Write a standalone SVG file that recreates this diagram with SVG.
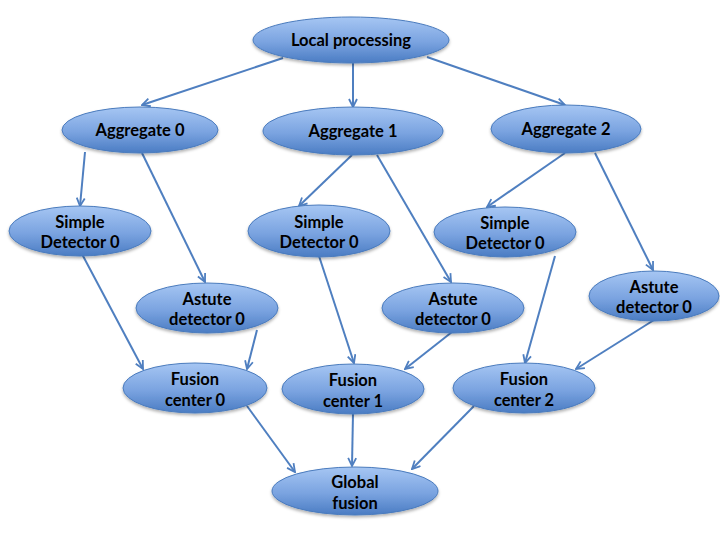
<svg xmlns="http://www.w3.org/2000/svg" width="720" height="540" viewBox="0 0 720 540">
<defs>
<linearGradient id="g" x1="0" y1="0" x2="0" y2="1">
<stop offset="0" stop-color="#a6c6f3"/>
<stop offset="0.55" stop-color="#7aa3e0"/>
<stop offset="1" stop-color="#4a7cc3"/>
</linearGradient>
<filter id="sh" x="-10%" y="-10%" width="120%" height="140%">
<feDropShadow dx="0" dy="2" stdDeviation="1.5" flood-color="#000" flood-opacity="0.3"/>
</filter>
<marker id="ah" viewBox="0 0 10 10" markerWidth="10" markerHeight="10" markerUnits="userSpaceOnUse" refX="9" refY="5" orient="auto">
<path d="M1,1 L9,5 L1,9" fill="none" stroke="#4f7fc0" stroke-width="1.8" stroke-linejoin="miter"/>
</marker>
</defs>
<style>
.n ellipse{fill:url(#g);stroke:#4a7bbd;stroke-width:1;filter:url(#sh)}
.n text{font-family:Lato,"Open Sans","Liberation Sans",sans-serif;font-weight:bold;font-size:16.5px;fill:#000;text-anchor:middle}
#edges line{stroke:#4f7fc0;stroke-width:2;marker-end:url(#ah)}
</style>
<rect width="720" height="540" fill="#fff"/>
<g id="edges">
<line x1="283" y1="58" x2="142" y2="105"/>
<line x1="353" y1="63" x2="353" y2="107"/>
<line x1="427" y1="57" x2="565" y2="105"/>
<line x1="85" y1="152" x2="80" y2="206"/>
<line x1="142" y1="153" x2="205" y2="282"/>
<line x1="352" y1="155" x2="299" y2="206"/>
<line x1="377" y1="155" x2="451" y2="282"/>
<line x1="565" y1="153" x2="487" y2="207"/>
<line x1="595" y1="153" x2="653" y2="270"/>
<line x1="82" y1="254" x2="143" y2="369"/>
<line x1="257" y1="330" x2="247" y2="369"/>
<line x1="319" y1="256" x2="354" y2="363"/>
<line x1="452" y1="332" x2="405" y2="369"/>
<line x1="555" y1="256" x2="525" y2="363"/>
<line x1="654" y1="320" x2="576" y2="369"/>
<line x1="247" y1="406" x2="295" y2="472"/>
<line x1="353" y1="413" x2="352" y2="466"/>
<line x1="474" y1="406" x2="412" y2="469"/>
</g>
<g id="local" class="n"><ellipse cx="351" cy="40" rx="98" ry="23"/><text x="351" y="46">Local processing</text></g>
<g id="agg0" class="n"><ellipse cx="140" cy="130" rx="78" ry="23"/><text x="140" y="136">Aggregate 0</text></g>
<g id="agg1" class="n"><ellipse cx="353" cy="131" rx="90" ry="24"/><text x="353" y="137">Aggregate 1</text></g>
<g id="agg2" class="n"><ellipse cx="566" cy="129" rx="75" ry="24"/><text x="566" y="135">Aggregate 2</text></g>
<g id="sd0" class="n"><ellipse cx="80" cy="231" rx="71" ry="25"/><text x="80" y="228">Simple</text><text x="80" y="248">Detector 0</text></g>
<g id="sd1" class="n"><ellipse cx="319" cy="231" rx="71" ry="26"/><text x="319" y="228">Simple</text><text x="319" y="248">Detector 0</text></g>
<g id="sd2" class="n"><ellipse cx="505" cy="232" rx="71" ry="25"/><text x="505" y="229">Simple</text><text x="505" y="249">Detector 0</text></g>
<g id="ad0" class="n"><ellipse cx="207" cy="308" rx="71" ry="25"/><text x="207" y="305">Astute</text><text x="207" y="325">detector 0</text></g>
<g id="ad1" class="n"><ellipse cx="453" cy="308" rx="71" ry="25"/><text x="453" y="305">Astute</text><text x="453" y="325">detector 0</text></g>
<g id="ad2" class="n"><ellipse cx="654" cy="296" rx="65" ry="25"/><text x="654" y="293">Astute</text><text x="654" y="313">detector 0</text></g>
<g id="fc0" class="n"><ellipse cx="195" cy="388" rx="72" ry="25"/><text x="195" y="385">Fusion</text><text x="195" y="406">center 0</text></g>
<g id="fc1" class="n"><ellipse cx="353" cy="389" rx="71" ry="25"/><text x="353" y="386">Fusion</text><text x="353" y="407">center 1</text></g>
<g id="fc2" class="n"><ellipse cx="524" cy="388" rx="71" ry="25"/><text x="524" y="385">Fusion</text><text x="524" y="406">center 2</text></g>
<g id="global" class="n"><ellipse cx="355" cy="491" rx="83" ry="24"/><text x="355" y="488">Global</text><text x="355" y="509">fusion</text></g>
</svg>
